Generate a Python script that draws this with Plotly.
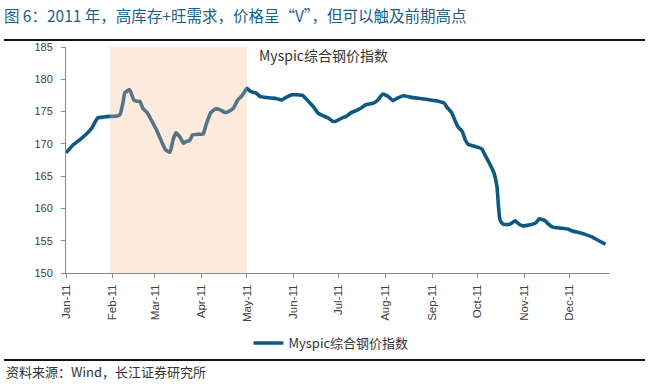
import plotly.graph_objects as go

# ---- data ----
dates = [
    "2011-01-01", "2011-01-06", "2011-01-10", "2011-01-14", "2011-01-18", "2011-01-22",
    "2011-01-26", "2011-01-30", "2011-02-04", "2011-02-06", "2011-02-08", "2011-02-09",
    "2011-02-12", "2011-02-13", "2011-02-15", "2011-02-17", "2011-02-19", "2011-02-21",
    "2011-02-24", "2011-02-27", "2011-03-02", "2011-03-05", "2011-03-08", "2011-03-11",
    "2011-03-13", "2011-03-15", "2011-03-18", "2011-03-20", "2011-03-22", "2011-03-24",
    "2011-03-26", "2011-03-30", "2011-04-02", "2011-04-04", "2011-04-07", "2011-04-10",
    "2011-04-13", "2011-04-16", "2011-04-18", "2011-04-22", "2011-04-25", "2011-04-28",
    "2011-05-01", "2011-05-03", "2011-05-05", "2011-05-07", "2011-05-10", "2011-05-13",
    "2011-05-17", "2011-05-21", "2011-05-24", "2011-05-27", "2011-05-31", "2011-06-03",
    "2011-06-07", "2011-06-10", "2011-06-14", "2011-06-17", "2011-06-20", "2011-06-24",
    "2011-06-27", "2011-06-29", "2011-07-03", "2011-07-06", "2011-07-09", "2011-07-13",
    "2011-07-16", "2011-07-19", "2011-07-24", "2011-07-27", "2011-07-30", "2011-08-03",
    "2011-08-06", "2011-08-09", "2011-08-13", "2011-08-18", "2011-08-25", "2011-08-31",
    "2011-09-05", "2011-09-09", "2011-09-11", "2011-09-14", "2011-09-16", "2011-09-18",
    "2011-09-21", "2011-09-23", "2011-09-25", "2011-09-28", "2011-10-01", "2011-10-04",
    "2011-10-06", "2011-10-09", "2011-10-12", "2011-10-14", "2011-10-15", "2011-10-16",
    "2011-10-18", "2011-10-20", "2011-10-23", "2011-10-26", "2011-10-29", "2011-10-31",
    "2011-11-06", "2011-11-09", "2011-11-11", "2011-11-15", "2011-11-17", "2011-11-20",
    "2011-11-23", "2011-11-27", "2011-11-30", "2011-12-03", "2011-12-08", "2011-12-12",
    "2011-12-16", "2011-12-21", "2011-12-25",
]
index_values = [
    168.6, 169.9, 170.6, 171.4, 172.4, 174.0,
    174.15, 174.25, 174.3, 174.6, 176.6, 177.9,
    178.4, 178.0, 176.8, 176.6, 176.6, 175.5,
    174.8, 173.5, 172.2, 170.6, 169.1, 168.7,
    170.6, 171.7, 170.9, 170.1, 170.4, 170.5,
    171.4, 171.5, 171.5, 173.0, 174.8, 175.4,
    175.3, 174.9, 174.9, 175.5, 176.8, 177.5,
    178.6, 178.2, 178.0, 177.9, 177.3, 177.2,
    177.1, 177.0, 176.8, 177.2, 177.6, 177.6,
    177.5, 176.8, 175.8, 174.8, 174.4, 174.0,
    173.5, 173.5, 174.0, 174.25, 174.8, 175.2,
    175.6, 176.05, 176.3, 176.8, 177.7, 177.3,
    176.7, 177.1, 177.45, 177.2, 177.0, 176.8,
    176.6, 176.3, 175.6, 174.8, 173.7, 172.7,
    171.9, 170.6, 169.9, 169.7, 169.5, 169.2,
    168.3, 167.0, 165.5, 163.4, 160.3, 158.2,
    157.6, 157.5, 157.6, 158.1, 157.5, 157.3,
    157.5, 157.8, 158.4, 158.1, 157.6, 157.1,
    157.0, 156.9, 156.8, 156.5, 156.25, 155.95,
    155.6, 154.95, 154.45,
]
month_ticks = ["2011-01-01", "2011-02-01", "2011-03-01", "2011-04-01", "2011-05-01", "2011-06-01",
               "2011-07-01", "2011-08-01", "2011-09-01", "2011-10-01", "2011-11-01", "2011-12-01"]
month_labels = ["Jan-11", "Feb-11", "Mar-11", "Apr-11", "May-11", "Jun-11",
                "Jul-11", "Aug-11", "Sep-11", "Oct-11", "Nov-11", "Dec-11"]
y_ticks = [150, 155, 160, 165, 170, 175, 180, 185]
shade_start, shade_end = "2011-01-30", "2011-05-01"
series_name = "Myspic综合钢价指数"

LINE = "rgb(16,88,132)"
CJK = "Noto Sans CJK SC"

fig = go.Figure()
fig.add_trace(go.Scatter(
    x=dates, y=index_values, mode="lines", name=series_name,
    line=dict(color=LINE, width=3.6, shape="spline", smoothing=0.4),
))

fig.add_shape(type="rect", xref="x", yref="paper", x0=shade_start, x1=shade_end, y0=0, y1=1,
              fillcolor="rgba(245,185,138,0.30)", line=dict(width=0), layer="above")
# header / footer rules
fig.add_shape(type="line", xref="paper", yref="paper", x0=-0.114, x1=1.0643, y0=1.0305, y1=1.0305,
              line=dict(color="#111111", width=2))
fig.add_shape(type="line", xref="paper", yref="paper", x0=-0.114, x1=1.0643, y0=-0.3854, y1=-0.3854,
              line=dict(color="#111111", width=2))

fig.add_annotation(xref="paper", yref="paper", x=0.352, y=0.966, xanchor="left", yanchor="middle",
                   text=series_name, showarrow=False, font=dict(family=CJK, size=14, color="#333333"))
fig.add_annotation(xref="paper", yref="paper", x=-0.114, y=-0.438, xanchor="left", yanchor="middle",
                   text="资料来源：Wind，长江证券研究所", showarrow=False,
                   font=dict(family=CJK, size=13, color="#333333"))

fig.update_layout(
    width=651, height=385,
    margin=dict(l=66, r=41, t=47, b=112),
    paper_bgcolor="white", plot_bgcolor="white",
    title=dict(text="图 6：2011 年，高库存+旺需求，价格呈“V”，但可以触及前期高点",
               x=0.006, xref="container", xanchor="left", y=0.958, yref="container", yanchor="middle",
               font=dict(family=CJK, size=15.5, color="#1b5f86")),
    showlegend=True,
    legend=dict(orientation="h", x=0.487, xanchor="center", y=-0.31, yanchor="middle",
                font=dict(family=CJK, size=13, color="#333333"), bgcolor="rgba(0,0,0,0)"),
    font=dict(family="Liberation Sans", size=11, color="#404040"),
)
fig.update_xaxes(
    type="date", range=["2011-01-01", "2011-12-28"],
    tickmode="array", tickvals=month_ticks, ticktext=month_labels, tickangle=-90,
    showline=True, linecolor="#8a8a8a", linewidth=1, ticks="outside", ticklen=4, tickcolor="#8a8a8a",
    showgrid=False, zeroline=False, ticklabelstandoff=2,
    tickfont=dict(family="Liberation Sans", size=11.5, color="#404040"),
)
fig.update_yaxes(
    range=[150, 185], tickmode="array", tickvals=y_ticks,
    showline=True, linecolor="#8a8a8a", linewidth=1, ticks="outside", ticklen=4, tickcolor="#8a8a8a",
    showgrid=False, zeroline=False, ticklabelstandoff=6,
    tickfont=dict(family="Liberation Sans", size=11, color="#404040"),
)

fig.write_html("out.html", config={"displayModeBar": False},
               post_script="document.body.style.margin='0';")
